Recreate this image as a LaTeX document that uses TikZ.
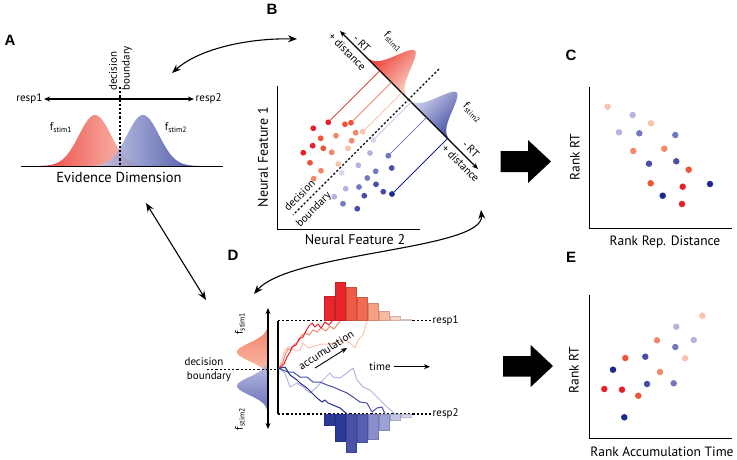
\documentclass[tikz,border=0pt]{standalone}
\usepackage{fontspec}
\setmainfont{PT Sans}
\newfontfamily\panelfont{Liberation Sans}
\usetikzlibrary{arrows.meta,calc}

% dot colours
\definecolor{rdark}{HTML}{E8202A}
\definecolor{rmid}{HTML}{EE5538}
\definecolor{rsal}{HTML}{F2876A}
\definecolor{rlight}{HTML}{F9C3AD}
\definecolor{bdark}{HTML}{1C2A8C}
\definecolor{bmid}{HTML}{4850A6}
\definecolor{bmed}{HTML}{7478C0}
\definecolor{blight}{HTML}{B3B5DE}
\definecolor{bvlight}{HTML}{D6D7EF}
% projection lines
\definecolor{lr1}{HTML}{DA4A35}
\definecolor{lr2}{HTML}{EC8A70}
\definecolor{lr3}{HTML}{F6C6B2}
\definecolor{lb4}{HTML}{C9CBEB}
\definecolor{lb5}{HTML}{8084C8}
\definecolor{lb6}{HTML}{1C2A8C}
% gradients
\definecolor{gred1}{HTML}{E8261F}
\definecolor{gred2}{HTML}{FBD3C3}
\definecolor{gblue1}{HTML}{CFD0EE}
\definecolor{gblue2}{HTML}{2A3796}
\definecolor{dred1}{HTML}{EF5A3A}
\definecolor{dblue2}{HTML}{3640A0}

\tikzset{
  sdot/.style={circle,inner sep=0pt,minimum size=6.5pt,fill=#1},
  bdot/.style={circle,inner sep=0pt,minimum size=5.8pt,fill=#1},
  panel/.style={font=\panelfont\bfseries\fontsize{15}{15}\selectfont,inner sep=0pt},
  lbl/.style={font=\fontsize{13.5}{14}\selectfont,inner sep=0pt},
  smalltext/.style={font=\fontsize{11}{12}\selectfont,inner sep=1.5pt},
  bndline/.style={dash pattern=on 2.2pt off 2pt,line width=1.1pt},
  axisline/.style={line width=1pt},
  smallarrow/.style={-{Stealth[length=6pt,width=5pt]},line width=0.9pt},
  twotip/.style={{Stealth[length=6pt,width=5pt]}-{Stealth[length=6pt,width=5pt]},line width=1.2pt},
  link/.style={line width=1.1pt,{Stealth[length=9pt,width=7pt,inset=3pt]}-{Stealth[length=9pt,width=7pt,inset=3pt]}},
  walk/.style={line width=1pt,line join=round,#1},
}

\begin{document}
\begin{tikzpicture}[x=1pt,y=-1pt,
  declare function={gA(\t,\m)=51*exp(0-((\t-\m)*(\t-\m))/512);
                    gB(\t,\m)=39*exp(0-((\t-\m)*(\t-\m))/180);
                    gD(\t,\m)=31*exp(0-((\t-\m)*(\t-\m))/162);}]
\useasboundingbox (0,0) rectangle (737,459);

% panel letters
\node[panel] (pA) at (10,40) {A};
\node[panel] (pB) at (272,9) {B};
\node[panel] (pC) at (571,55) {C};
\node[panel] (pD) at (233,255) {D};
\node[panel] (pE) at (571,257) {E};

%%% A: evidence dimension
\shade[left color=gred1,right color=gred2,fill opacity=0.85]
  plot[domain=40:152,samples=60] (\x,{166-gA(\x,95)}) -- cycle;
\shade[left color=gblue1,right color=gblue2,fill opacity=0.85]
  plot[domain=88:200,samples=60] (\x,{166-gA(\x,143)}) -- cycle;
\draw[axisline] (21,166) -- (223,166);
\draw[bndline] (120,87) -- (120,166);
\node[smalltext,anchor=east] (resp1A) at (44,99) {resp1};
\node[smalltext,anchor=west] (resp2A) at (194,99) {resp2};
\draw[twotip] (resp1A) -- (resp2A);
\node[smalltext,rotate=90] (decA) at (113,71) {decision};
\node[smalltext,rotate=90] (bndA) at (127,68) {boundary};
\node[smalltext] (f1A) at (61,128) {f\textsubscript{stim1}};
\node[smalltext] (f2A) at (176,128) {f\textsubscript{stim2}};
\node[lbl,font=\fontsize{14.5}{15}\selectfont] (evA) at (119,177) {Evidence Dimension};

%%% B: neural feature space
\coordinate (bax1) at (340,31);
\coordinate (bax2) at (478,169);
\shade[top color=gred1,bottom color=gred2,shading angle=45,fill opacity=0.9]
  plot[domain=36:96.9,samples=60]
  ({340+(\x+gB(\x,67))*0.7071},{31+(\x-gB(\x,67))*0.7071}) -- cycle;
\shade[top color=gblue1,bottom color=gblue2,shading angle=45,fill opacity=0.9]
  plot[domain=96.9:157,samples=60]
  ({340+(\x+gB(\x,126))*0.7071},{31+(\x-gB(\x,126))*0.7071}) -- cycle;
\draw[twotip,line width=1.4pt] (bax1) -- (bax2);
\draw[bndline] (439,69) -- (293,215);
\draw[axisline] (277,86) -- (277,229) -- (420,229);

\node[smalltext,rotate=-45] (rt1B) at (361.7,43.3) {- RT};
\node[smalltext,rotate=-45] (ds1B) at (347.3,51.7) {+ distance};
\node[smalltext,rotate=-45] (rt2B) at (470.7,149) {- RT};
\node[smalltext,rotate=-45] (ds2B) at (460.7,163.3) {+ distance};
\node[smalltext,rotate=-45] (f1B) at (393.3,41.7) {f\textsubscript{stim1}};
\node[smalltext,rotate=-45] (f2B) at (472.7,112.7) {f\textsubscript{stim2}};
\node[smalltext,rotate=45] (decB) at (299.5,195.5) {decision};
\node[smalltext,rotate=45] (bndB) at (314,210) {boundary};
\node[lbl,font=\fontsize{14}{15}\selectfont,rotate=90] (nf1) at (263,157) {Neural Feature 1};
\node[lbl,font=\fontsize{14}{15}\selectfont] (nf2) at (355,240) {Neural Feature 2};

\foreach \x/\y/\c [count=\i] in {328.3/122.3/rdark, 351/122.7/rmid, 362.7/131.7/rlight,
    373.3/140/bvlight, 388.3/155.7/bmed, 392/194/bdark, 345/124.3/rmid, 313.3/128.3/rdark,
    336/135.7/rsal, 355.7/132.7/rsal, 320.7/138.3/rmid, 351.7/140.7/rsal, 312.7/145.7/rdark,
    323.3/148.3/rmid, 348/148.3/rlight, 303.3/152.7/rdark, 331.7/152.3/rsal, 310/162.7/rmid,
    338.3/164/rlight, 321/170.7/rsal, 313.7/178.7/rsal, 370/153/blight, 358.3/165.3/blight,
    341.7/172.7/bvlight, 391.7/168/bmid, 375.7/171.3/bmed, 367.3/178/bmed, 376/184.3/bmid,
    345.7/188.7/blight, 359/187/bmed, 383.3/191.7/bmid, 334.3/196.7/blight, 364.3/195.7/bmid,
    343/203.7/bmed, 357.3/208.7/bmid}
  \node[bdot=\c] (b\i) at (\x,\y) {};
\foreach \i/\c in {1/lr1,2/lr2,3/lr3,4/lb4,5/lb5,6/lb6}
  \draw[\c,line width=0.9pt] (b\i) -- ($(bax1)!(b\i)!(bax2)$);

%%% C: rank RT vs rank distance
\fill (500.7,151) -- (528,151) -- (528,140) -- (551,161.5) -- (528,183) -- (528,172) -- (500.7,172) -- cycle;
\draw[axisline] (589,87) -- (589,228) -- (732,228);
\node[lbl,rotate=90] (rtC) at (575,157) {Rank RT};
\node[lbl] (distC) at (665,242) {Rank Rep. Distance};
\foreach \x/\y/\c [count=\i] in {607.7/106.7/rlight, 632.7/115/blight, 651/123.3/rlight,
    619/132.3/blight, 639.3/133.3/bmed, 675.3/135/bmed, 633.3/151/rsal, 664.3/148.7/rsal,
    649/163.7/bmid, 676.3/161.3/bmid, 688.7/169.7/rmid, 650.7/183.3/rmid, 682.7/186.7/rdark,
    710/184/bdark, 662.7/195.7/bdark, 682/204/rdark}
  \node[sdot=\c] (c\i) at (\x,\y) {};

%%% D: accumulation to bound
\coordinate (dTop) at (268,308);
\coordinate (dBot) at (268,429);
\coordinate (w0) at (279,368.5);
\shade[top color=dred1,bottom color=gred2,fill opacity=0.85]
  plot[domain=318:392,samples=60] ({268-gD(\x,352)},\x) -- cycle;
\shade[top color=gblue1,bottom color=dblue2,fill opacity=0.85]
  plot[domain=348:421,samples=60] ({268-gD(\x,386)},\x) -- cycle;
\draw[twotip] (dBot) -- (dTop);
\node[smalltext,rotate=90] (f1D) at (240,323.5) {f\textsubscript{stim1}};
\node[smalltext,rotate=90] (f2D) at (240,419) {f\textsubscript{stim2}};
\node[smalltext] (decD) at (204,362) {decision};
\node[smalltext] (bndD) at (209,377) {boundary};
\draw[bndline] (207,369.5) -- (278,369.5);
\draw[line width=1.2pt] (278,320.7) -- (278,414);
\node[smalltext,anchor=west] (resp1D) at (431,320.7) {resp1};
\node[smalltext,anchor=west] (resp2D) at (431,414) {resp2};
\draw[bndline] (278,320.7) -- (resp1D);
\draw[bndline] (278,414) -- (resp2D);

% histograms of finishing times
\foreach \h/\c [count=\i from 0] in {296/E8262B, 282.7/E8262B, 287.7/EE5A45, 297.3/F06B50,
    303.3/F5A083, 311.7/F8B9A2, 316/FAD2C3, 319.3/FCE3DA} {
  \definecolor{barc}{HTML}{\c}
  \filldraw[fill=barc,draw=barc!85!black,line width=0.5pt]
    (324.5+10.9*\i,320.7) rectangle (334.5+10.9*\i,\h);
}
\foreach \h/\c [count=\i from 0] in {425/2B3B99, 441.7/2B3B99, 452.3/4A52A8, 442.7/5560B2,
    439/8A8ECC, 430/9DA1D4, 420/C2C4E6, 417.7/D7D8EF} {
  \definecolor{barc}{HTML}{\c}
  \filldraw[fill=barc,draw=barc!85!black,line width=0.5pt]
    (324.5+10.9*\i,414) rectangle (334.5+10.9*\i,\h);
}

% random walks
\draw[walk=rlight] (w0) -- (285,350) -- (288,347) -- (293,350) -- (300,350) -- (303,343)
  -- (308,348) -- (315,346) -- (322,344) -- (328,344) -- (337,343) -- (343,340) -- (350,343)
  -- (355,348) -- (358,340) -- (363,335) -- (367,321);
\draw[walk=rsal] (w0) -- (283,362) -- (285,355) -- (288,349) -- (291,350) -- (294,345)
  -- (298,342) -- (301,336) -- (305,333) -- (309,335) -- (313,330) -- (317,332) -- (321,328)
  -- (326,331) -- (330,326) -- (334,329) -- (337,325) -- (340,321);
\draw[walk=rdark] (w0) -- (284,364) -- (287,357) -- (290,352) -- (292,347) -- (296,345)
  -- (299,339) -- (303,337) -- (306,331) -- (309,326) -- (312,323) -- (315,327) -- (318,324)
  -- (321,328) -- (325,322) -- (329,325) -- (332,321);
\draw[walk=blight] (w0) -- (285,373) -- (290,387) -- (297,383) -- (303,387) -- (310,393)
  -- (317,387) -- (323,380) -- (330,373) -- (333,377) -- (340,378) -- (347,373) -- (353,368)
  -- (357,380) -- (363,387) -- (370,390) -- (377,397) -- (387,407) -- (395,414);
\draw[walk=bmid] (w0) -- (288,372) -- (293,372) -- (300,377) -- (307,377) -- (313,382)
  -- (320,382) -- (327,385) -- (333,387) -- (340,390) -- (347,393) -- (353,397) -- (360,402)
  -- (367,403) -- (372,412) -- (377,408) -- (382,407) -- (385,414);
\draw[walk=bdark] (w0) -- (285,367) -- (290,375) -- (297,380) -- (300,383) -- (307,388)
  -- (312,393) -- (317,398) -- (322,402) -- (325,400) -- (328,403) -- (333,405) -- (340,408)
  -- (347,414);

\coordinate (acc1) at (315,368);
\coordinate (acc2) at (347,348);
\draw[smallarrow] (acc1) -- (acc2);
\node[smalltext,rotate=33] (accD) at (326,350) {accumulation};
\node[smalltext,inner sep=3pt] (timeD) at (380,366.7) {time};
\coordinate (tEnd) at (430,366.7);
\draw[smallarrow] (timeD) -- (tEnd);

%%% E: rank RT vs rank accumulation time
\fill (503,356) -- (530.7,356) -- (530.7,345) -- (553,366) -- (530.7,387) -- (530.7,376.5) -- (503,376.5) -- cycle;
\draw[axisline] (589,295) -- (589,438) -- (732,438);
\node[lbl,rotate=90] (rtE) at (574,370) {Rank RT};
\node[lbl] (accE) at (662,452) {Rank Accumulation Time};
\foreach \x/\y/\c [count=\i] in {702.3/315.7/rlight, 676.3/326.7/blight, 693.7/340/blight,
    657/340.3/rsal, 675.3/347/bmed, 685/358.3/rlight, 625.3/358/rmid, 645.3/356.7/bmid,
    613/369.7/bdark, 660/372/rsal, 647/384/bmid, 673.7/383.3/bmed, 604.3/389/rdark,
    622/389.7/rdark, 638.3/395.7/rmid, 624.3/417.3/bdark}
  \node[sdot=\c] (e\i) at (\x,\y) {};

%%% links between panels
\coordinate (lAB1) at (172,73);
\coordinate (lAB2) at (297,39);
\coordinate (lAD1) at (146,203);
\coordinate (lAD2) at (206,300);
\coordinate (lBD1) at (481,210);
\coordinate (lBD2) at (254,294);
\draw[link] (lAB1) .. controls (200,48) and (250,38) .. (lAB2);
\draw[link] (lAD1) -- (lAD2);
\draw[link] (lBD1) .. controls (485,250) and (290,252) .. (lBD2);
\end{tikzpicture}
\end{document}
